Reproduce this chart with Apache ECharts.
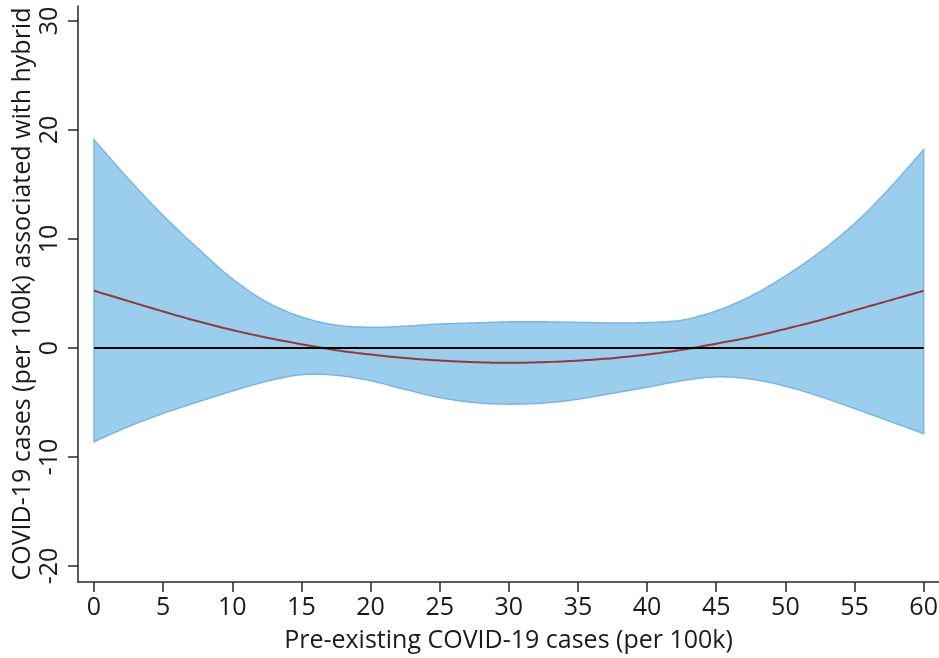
<!DOCTYPE html>
<html>
<head>
<meta charset="utf-8">
<script src="https://cdn.jsdelivr.net/npm/echarts@6/dist/echarts.min.js"></script>
<style>
  html, body { margin: 0; padding: 0; background: #fff; }
  #chart { width: 939px; height: 658px; }
</style>
</head>
<body>
<div id="chart"></div>
<script>
// Pre-existing cases (per 100k)
const xValues = [0, 2.5, 5, 7.5, 10, 12.5, 15, 17.5, 20, 22.5, 25, 27.5, 30,
                 32.5, 35, 37.5, 40, 42.5, 45, 47.5, 50, 52.5, 55, 57.5, 60];
// Estimated effect and its confidence band
const estimate = [5.25, 4.3, 3.35, 2.45, 1.65, 0.95, 0.35, -0.2, -0.6, -0.92, -1.15, -1.3, -1.36,
                  -1.3, -1.16, -0.93, -0.6, -0.17, 0.4, 1.0, 1.75, 2.55, 3.45, 4.35, 5.25];
const upper = [19.1, 15.5, 12.15, 9.15, 6.35, 4.2, 2.85, 2.1, 1.9, 2.0, 2.2, 2.3, 2.4,
               2.4, 2.35, 2.3, 2.33, 2.55, 3.4, 4.75, 6.6, 8.8, 11.4, 14.6, 18.2];
const lower = [-8.6, -7.2, -6.0, -4.95, -3.95, -3.05, -2.45, -2.5, -3.0, -3.8, -4.55, -5.0, -5.15,
               -5.05, -4.7, -4.15, -3.6, -3.0, -2.65, -2.85, -3.5, -4.45, -5.55, -6.7, -7.85];
// Reference line at zero
const zeroLine = [0, 0];
// Tick labels
const xTicks = [0, 5, 10, 15, 20, 25, 30, 35, 40, 45, 50, 55, 60];
const yTicks = [-20, -10, 0, 10, 20, 30];

const bandFill = '#9bcdec';
const bandEdge = '#7ab6e3';
const font = '"Open Sans", "Noto Sans", sans-serif';
const axisColor = '#262626';
const textColor = '#1a1a1a';
const fontSize = 25;

const last = xValues.length - 1;

// Catmull-Rom curve through pixel points, sampled densely for drawing
function spline(pts, steps) {
  const out = [];
  const n = pts.length;
  for (let i = 0; i < n - 1; i++) {
    const p0 = pts[Math.max(i - 1, 0)], p1 = pts[i], p2 = pts[i + 1], p3 = pts[Math.min(i + 2, n - 1)];
    for (let s = 0; s < steps; s++) {
      const t = s / steps, t2 = t * t, t3 = t2 * t;
      const f = (a, b, c, d) => 0.5 * ((2 * b) + (-a + c) * t + (2 * a - 5 * b + 4 * c - d) * t2 + (-a + 3 * b - 3 * c + d) * t3);
      out.push([f(p0[0], p1[0], p2[0], p3[0]), f(p0[1], p1[1], p2[1], p3[1])]);
    }
  }
  out.push(pts[n - 1]);
  return out;
}

function renderBand(params, api) {
  const up = xValues.map((x, i) => api.coord([x, upper[i]]));
  const lo = xValues.map((x, i) => api.coord([x, lower[i]]));
  const points = spline(up, 12).concat(spline(lo, 12).reverse());
  return {
    type: 'polygon',
    shape: { points: points },
    style: { fill: bandFill, stroke: bandEdge, lineWidth: 1.5 }
  };
}

function renderEstimate(params, api) {
  const pts = xValues.map((x, i) => api.coord([x, estimate[i]]));
  return {
    type: 'polyline',
    shape: { points: spline(pts, 12) },
    style: { fill: null, stroke: '#8f3a3e', lineWidth: 2 }
  };
}

const chart = echarts.init(document.getElementById('chart'), null, { renderer: 'canvas' });
chart.setOption({
  animation: false,
  backgroundColor: '#fff',
  grid: { left: 78, right: 0, top: 6, bottom: 76, containLabel: false, outerBoundsMode: 'none' },
  xAxis: {
    type: 'value',
    min: -1.157, max: 61.11,
    name: 'Pre-existing COVID-19 cases (per 100k)',
    nameLocation: 'middle',
    nameGap: 46,
    nameMoveOverlap: false,
    nameTextStyle: { fontFamily: font, fontSize: fontSize, color: textColor },
    axisLine: { show: true, onZero: false, lineStyle: { color: axisColor, width: 1.5 } },
    axisTick: { show: true, length: 10, lineStyle: { color: axisColor, width: 1.5 }, customValues: xTicks },
    axisLabel: { fontFamily: font, fontSize: fontSize, color: textColor, margin: 13, customValues: xTicks },
    splitLine: { show: false }
  },
  yAxis: {
    type: 'value',
    min: -21.47, max: 31.38,
    name: 'COVID-19 cases (per 100k) associated with hybrid',
    nameLocation: 'middle',
    nameGap: 43,
    nameMoveOverlap: false,
    nameRotate: 90,
    nameTextStyle: { fontFamily: font, fontSize: fontSize, color: textColor },
    axisLine: { show: true, onZero: false, lineStyle: { color: axisColor, width: 1.5 } },
    axisTick: { show: true, length: 10, lineStyle: { color: axisColor, width: 1.5 }, customValues: yTicks },
    axisLabel: { fontFamily: font, fontSize: fontSize, color: textColor, margin: 16, rotate: 90, customValues: yTicks },
    splitLine: { show: false }
  },
  series: [
    {
      // confidence band
      type: 'custom', renderItem: renderBand, data: [0], silent: true, z: 1
    },
    {
      // point estimate
      type: 'custom', renderItem: renderEstimate, data: [0], silent: true, z: 4
    },
    {
      type: 'line', data: [[xValues[0], zeroLine[0]], [xValues[last], zeroLine[1]]],
      symbol: 'none', lineStyle: { color: '#000', width: 2 }, z: 5
    }
  ]
});
</script>
</body>
</html>
